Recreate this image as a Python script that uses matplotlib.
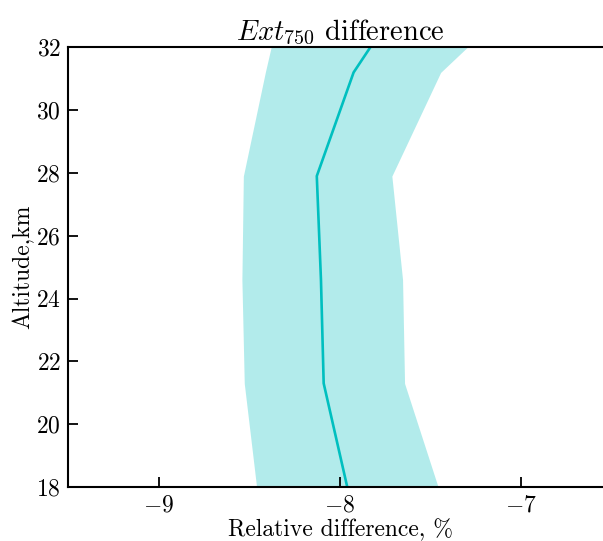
import matplotlib
matplotlib.use("Agg")
import matplotlib.pyplot as plt

plt.rcParams["font.family"] = "serif"
plt.rcParams["font.serif"] = ["cmr10", "DejaVu Serif"]
plt.rcParams["mathtext.fontset"] = "cm"
plt.rcParams["axes.formatter.use_mathtext"] = True
plt.rcParams["axes.unicode_minus"] = True

altitude = [18.0, 21.3, 24.6, 27.9, 31.2, 34.5]
mean_diff = [-7.96, -8.09, -8.105, -8.128, -7.925, -7.545]
lower = [-8.46, -8.528, -8.541, -8.533, -8.412, -8.28]
upper = [-7.459, -7.644, -7.655, -7.714, -7.445, -6.84]

xticks = [-9, -8, -7]
yticks = [18, 20, 22, 24, 26, 28, 30, 32]

fig = plt.figure(figsize=(6.03, 5.41), dpi=100)
ax = fig.add_axes([68 / 603, 1 - 487 / 541, (612 - 68) / 603, (487 - 47.3) / 541])

ax.fill_betweenx(altitude, lower, upper, color="c", alpha=0.3, linewidth=0)
ax.plot(mean_diff, altitude, color="c", linewidth=1.9)

ax.set_xlim(-9.5, -6.5)
ax.set_ylim(18, 32)
ax.set_xticks(xticks)
ax.set_yticks(yticks)
ax.tick_params(direction="in", length=7.5, width=1.3, labelsize=17, pad=5,
               top=False, right=False)
for s in ax.spines.values():
    s.set_linewidth(1.5)

ax.set_xlabel("Relative difference, %", fontsize=17, labelpad=2)
ax.set_ylabel("Altitude,km", fontsize=17, labelpad=1)
ax.set_title(r"$Ext_{750}$ difference", fontsize=20.5, pad=5)

fig.savefig("out.png", dpi=100)
